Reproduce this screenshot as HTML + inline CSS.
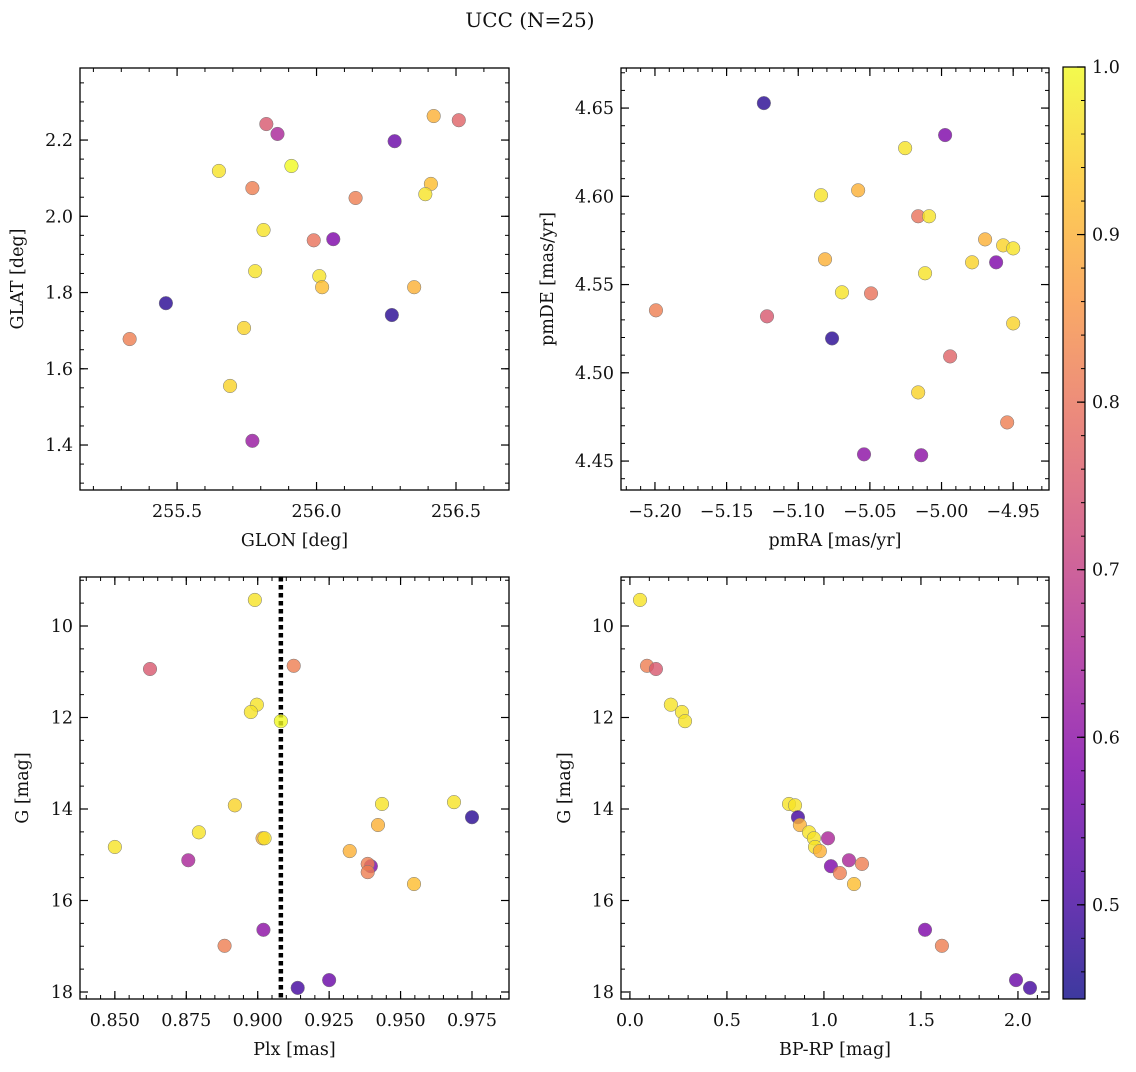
<!DOCTYPE html>
<html><head><meta charset="utf-8">
<style>
html,body{margin:0;padding:0;background:#fff;}
svg text{font-family:"DejaVu Serif","Liberation Serif",serif;fill:#111;}
</style></head>
<body>
<svg id="fig" width="1136" height="1067" xmlns="http://www.w3.org/2000/svg">
<defs>
<linearGradient id="plasma" x1="0" y1="1" x2="0" y2="0">
<stop offset="0" stop-color="#0d0887"/><stop offset="0.125" stop-color="#4c02a1"/>
<stop offset="0.25" stop-color="#7e03a8"/><stop offset="0.375" stop-color="#a92395"/>
<stop offset="0.5" stop-color="#cc4778"/><stop offset="0.625" stop-color="#e66c5c"/>
<stop offset="0.75" stop-color="#f89540"/><stop offset="0.875" stop-color="#fdc328"/>
<stop offset="1" stop-color="#f0f921"/>
</linearGradient>
</defs>
<text x="530" y="27" font-size="20" text-anchor="middle">UCC (N=25)</text>
</svg>
<script>
// Top-left: GLON / GLAT
const glonTL=[255.46,255.33,255.65,255.82,255.86,255.91,255.77,255.81,255.78,255.74,255.69,255.77,255.99,256.06,256.01,256.02,256.14,256.28,256.27,256.35,256.42,256.51,256.41,256.39];
const glatTL=[1.772,1.678,2.119,2.242,2.216,2.132,2.074,1.964,1.856,1.707,1.555,1.411,1.937,1.940,1.843,1.814,2.048,2.197,1.741,1.814,2.263,2.252,2.085,2.058];
const probTL=[0.47,0.82,0.97,0.75,0.65,1.0,0.82,0.97,0.97,0.95,0.95,0.62,0.8,0.58,0.97,0.92,0.82,0.55,0.47,0.9,0.9,0.77,0.92,0.97];
// Top-right: pmRA / pmDE
const pmra=[-5.124,-4.9975,-5.0254,-5.0582,-5.0841,-5.0163,-5.0087,-4.9696,-4.957,-4.95,-5.0813,-4.9787,-4.9619,-5.0115,-5.0695,-5.0492,-5.1993,-5.1218,-4.95,-5.0764,-4.994,-5.0163,-4.9542,-5.0541,-5.0142];
const pmde=[4.6528,4.6347,4.6273,4.6034,4.6006,4.5887,4.5887,4.5756,4.5722,4.5705,4.5643,4.5626,4.5626,4.5564,4.5456,4.545,4.5354,4.532,4.528,4.5195,4.5093,4.4889,4.4719,4.4538,4.4533];
const probTR=[0.47,0.58,0.97,0.9,0.97,0.8,0.97,0.9,0.95,0.97,0.9,0.95,0.58,0.97,0.97,0.8,0.82,0.75,0.95,0.47,0.77,0.95,0.82,0.6,0.6];
// Bottom-left: Plx / G
const plx=[0.899,0.8623,0.9126,0.8997,0.8976,0.9081,0.892,0.9435,0.9687,0.975,0.9421,0.8794,0.9017,0.9024,0.85,0.9322,0.8757,0.9396,0.9385,0.9385,0.9547,0.902,0.8884,0.925,0.914];
const gBL=[9.43,10.94,10.87,11.72,11.88,12.08,13.92,13.89,13.85,14.18,14.35,14.51,14.64,14.64,14.83,14.92,15.12,15.25,15.2,15.38,15.64,16.64,16.99,17.74,17.91];
const probBL=[0.97,0.75,0.82,0.97,0.97,1.0,0.95,0.97,0.97,0.47,0.9,0.97,0.9,0.97,0.97,0.9,0.65,0.58,0.82,0.82,0.92,0.6,0.82,0.55,0.5];
const plxMean=[0.9081];
// Bottom-right: BP-RP / G
const bprp=[0.052,0.088,0.134,0.211,0.268,0.284,0.82,0.851,0.866,0.876,0.923,0.948,1.021,0.954,0.979,1.129,1.196,1.036,1.082,1.155,1.521,1.608,1.99,2.062];
const gBR=[9.43,10.87,10.94,11.72,11.88,12.08,13.89,13.92,14.18,14.35,14.51,14.64,14.64,14.83,14.92,15.12,15.2,15.25,15.4,15.64,16.64,16.99,17.74,17.91];
const probBR=[0.97,0.82,0.75,0.97,0.97,0.97,0.97,0.97,0.5,0.9,0.97,0.97,0.65,0.97,0.9,0.65,0.82,0.58,0.82,0.92,0.58,0.82,0.55,0.5];
const cbTicks=["0.5","0.6","0.7","0.8","0.9","1.0"];

const NS="http://www.w3.org/2000/svg";
const svg=document.getElementById('fig');
const FS=17.5;
function mk(tag,attrs,parent){const e=document.createElementNS(NS,tag);for(const k in attrs)e.setAttribute(k,attrs[k]);(parent||svg).appendChild(e);return e;}
const stops=[[0,[13,8,135]],[0.125,[76,2,161]],[0.25,[126,3,168]],[0.375,[169,35,149]],[0.5,[204,71,120]],[0.625,[230,108,92]],[0.75,[248,149,64]],[0.875,[253,195,40]],[1,[240,249,33]]];
const PMIN=0.4438,PMAX=1.0;
function plasma(p){let t=(p-PMIN)/(PMAX-PMIN);t=Math.max(0,Math.min(1,t));
 for(let i=0;i<stops.length-1;i++){if(t<=stops[i+1][0]){const a=stops[i],b=stops[i+1],f=(t-a[0])/(b[0]-a[0]);
 const c=a[1].map((v,j)=>Math.round(v+(b[1][j]-v)*f));return `rgb(${c[0]},${c[1]},${c[2]})`;}}
 return 'rgb(240,249,33)';}

function panel(o){
 const g=mk('g',{});
 
 
 const sx=v=>o.x0+(v-o.xmin)/(o.xmax-o.xmin)*(o.x1-o.x0);
 const sy=o.yinv?(v=>o.y0+(v-o.ymin)/(o.ymax-o.ymin)*(o.y1-o.y0)):(v=>o.y1-(v-o.ymin)/(o.ymax-o.ymin)*(o.y1-o.y0));
 const eps=1e-9;
 for(let v=Math.ceil(o.xmin/o.xmi-eps)*o.xmi;v<=o.xmax+eps;v+=o.xmi){const x=sx(v);
  mk('line',{x1:x,x2:x,y1:o.y1,y2:o.y1-4,stroke:'#000','stroke-width':1},g);mk('line',{x1:x,x2:x,y1:o.y0,y2:o.y0+4,stroke:'#000','stroke-width':1},g);}
 for(let v=Math.ceil(o.ymin/o.ymi-eps)*o.ymi;v<=o.ymax+eps;v+=o.ymi){const y=sy(v);
  mk('line',{x1:o.x0,x2:o.x0+4,y1:y,y2:y,stroke:'#000','stroke-width':1},g);mk('line',{x1:o.x1,x2:o.x1-4,y1:y,y2:y,stroke:'#000','stroke-width':1},g);}
 o.xt.forEach(v=>{const x=sx(v);
  mk('line',{x1:x,x2:x,y1:o.y1,y2:o.y1-8,stroke:'#000','stroke-width':1.2},g);mk('line',{x1:x,x2:x,y1:o.y0,y2:o.y0+8,stroke:'#000','stroke-width':1.2},g);
  const t=mk('text',{x:x,y:o.y1+27,'font-size':FS,'text-anchor':'middle'},g);t.textContent=v.toFixed(o.xd).replace('-','\u2212');
  
  });
 o.yt.forEach(v=>{const y=sy(v);
  mk('line',{x1:o.x0,x2:o.x0+8,y1:y,y2:y,stroke:'#000','stroke-width':1.2},g);mk('line',{x1:o.x1,x2:o.x1-8,y1:y,y2:y,stroke:'#000','stroke-width':1.2},g);
  const t=mk('text',{x:o.x0-7,y:y+6,'font-size':FS,'text-anchor':'end'},g);t.textContent=v.toFixed(o.yd);
  
  });
 if(o.vline!==undefined){const x=sx(o.vline);const l=mk('line',{x1:x,x2:x,y1:o.y0,y2:o.y1,stroke:'#000','stroke-width':4.5,'stroke-dasharray':'4.5,3.5'},g);
  
  }
 o.xs.forEach((v,i)=>{const c=mk('circle',{cx:sx(v),cy:sy(o.ys[i]),r:6.8,fill:plasma(o.p[i]),'fill-opacity':0.8,stroke:'#777','stroke-width':0.5},g);
  
  });
 const f=mk('rect',{x:o.x0,y:o.y0,width:o.x1-o.x0,height:o.y1-o.y0,fill:'none',stroke:'#000','stroke-width':1.3},g);
 
 
 const xl=mk('text',{x:(o.x0+o.x1)/2,y:o.y1+56,'font-size':FS,'text-anchor':'middle'},g);xl.textContent=o.xlab;
 
 
 const cy=(o.y0+o.y1)/2;const yl=mk('text',{x:o.ylx,y:cy,'font-size':FS,'text-anchor':'middle',transform:`rotate(-90 ${o.ylx} ${cy})`},g);yl.textContent=o.ylab;
 
 
}
panel({name:'glon-glat-panel',x0:80,x1:509,y0:68,y1:490,xmin:255.152,xmax:256.69,ymin:1.282,ymax:2.389,xt:[255.5,256.0,256.5],xd:1,yt:[1.4,1.6,1.8,2.0,2.2],yd:1,xmi:0.1,ymi:0.05,xs:glonTL,ys:glatTL,p:probTL,xlab:'GLON [deg]',ylab:'GLAT [deg]',ylx:23});
panel({name:'pm-panel',x0:621,x1:1049,y0:68,y1:490,xmin:-5.2237,xmax:-4.925,ymin:4.4336,ymax:4.6727,xt:[-5.20,-5.15,-5.10,-5.05,-5.00,-4.95],xd:2,yt:[4.45,4.50,4.55,4.60,4.65],yd:2,xmi:0.01,ymi:0.01,xs:pmra,ys:pmde,p:probTR,xlab:'pmRA [mas/yr]',ylab:'pmDE [mas/yr]',ylx:553});
panel({name:'plx-g-panel',x0:80,x1:509,y0:577,y1:999,xmin:0.8378,xmax:0.98795,ymin:8.929,ymax:18.153,yinv:true,xt:[0.850,0.875,0.900,0.925,0.950,0.975],xd:3,yt:[10,12,14,16,18],yd:0,xmi:0.005,ymi:0.5,xs:plx,ys:gBL,p:probBL,vline:plxMean[0],xlab:'Plx [mas]',ylab:'G [mag]',ylx:28});
panel({name:'cmd-panel',x0:621,x1:1049,y0:577,y1:999,xmin:-0.046,xmax:2.16,ymin:8.929,ymax:18.153,yinv:true,xt:[0,0.5,1.0,1.5,2.0],xd:1,yt:[10,12,14,16,18],yd:0,xmi:0.1,ymi:0.5,xs:bprp,ys:gBR,p:probBR,xlab:'BP-RP [mag]',ylab:'G [mag]',ylx:570});
const cb=mk('g',{});


mk('rect',{x:1063,y:67,width:22,height:932,fill:'url(#plasma)','fill-opacity':0.8},cb);
mk('rect',{x:1063,y:67,width:22,height:932,fill:'none',stroke:'#000','stroke-width':1.2},cb);
const cy=v=>999-(v-PMIN)/(PMAX-PMIN)*932;
for(let v=0.46;v<=1.0001;v+=0.02){mk('line',{x1:1085,x2:1081,y1:cy(v),y2:cy(v),stroke:'#000','stroke-width':1},cb);}
cbTicks.forEach(s=>{const v=parseFloat(s);const y=cy(v);mk('line',{x1:1085,x2:1077,y1:y,y2:y,stroke:'#000','stroke-width':1.2},cb);
 const t=mk('text',{x:1092,y:y+6,'font-size':FS},cb);t.textContent=s;
 
 });
</script>
</body></html>
